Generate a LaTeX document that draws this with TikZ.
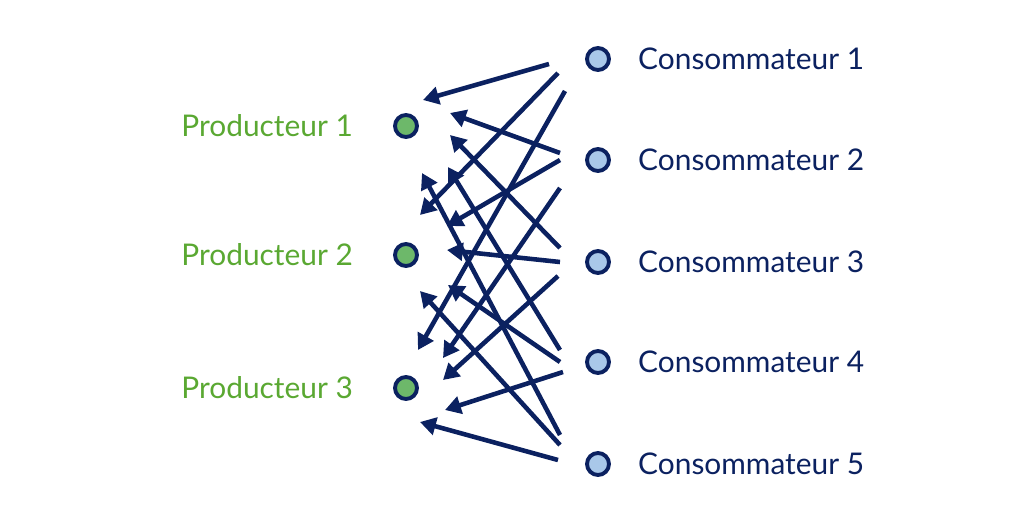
\documentclass[tikz,border=0pt]{standalone}
\usepackage{fontspec}
\setmainfont{Lato}
\usetikzlibrary{arrows.meta}
\definecolor{navy}{HTML}{0B2160}
\definecolor{pgreen}{HTML}{5AA832}
\definecolor{dotg}{HTML}{6DB86A}
\definecolor{dotb}{HTML}{A9C8E9}
\begin{document}
\begin{tikzpicture}[x=0.02cm,y=-0.02cm,
  dot/.style={circle,draw=navy,line width=2.2pt,minimum size=0.44cm,inner sep=0},
  lbl/.style={font=\fontsize{17}{20}\selectfont},
  arr/.style={navy,line width=2.6pt,-{Triangle[length=9pt,width=10pt]}}]
\useasboundingbox (0,0) rectangle (1021,518);
\foreach \i/\y in {1/126,2/255,3/388}{
  \node[dot,fill=dotg] (p\i) at (406,\y) {};
  \node[lbl,text=pgreen,anchor=east] (pl\i) at (359,\y) {Producteur \i};
}
\foreach \i/\y in {1/59,2/160,3/262,4/362,5/464}{
  \node[dot,fill=dotb] (c\i) at (598,\y) {};
  \node[lbl,text=navy,anchor=west] (cl\i) at (632,\y) {Consommateur \i};
}
\foreach \n/\sx/\sy/\ex/\ey in {
 a/549/64/423/100, b/558/73/420/215, c/565/91/418/350,
 d/560/153/450/113, e/560/160/447/226, f/560/188/443/358,
 g/560/248/450/135, h/560/262/447/250, i/558/276/443/380,
 j/560/350/448/167, k/560/362/448/285, l/563/372/445/410,
 m/560/435/422/173, n/560/445/420/291, o/558/460/420/422}{
  \coordinate (s\n) at (\sx,\sy);
  \coordinate (e\n) at (\ex,\ey);
  \draw[arr] (s\n) -- (e\n);
}
\end{tikzpicture}
\end{document}
